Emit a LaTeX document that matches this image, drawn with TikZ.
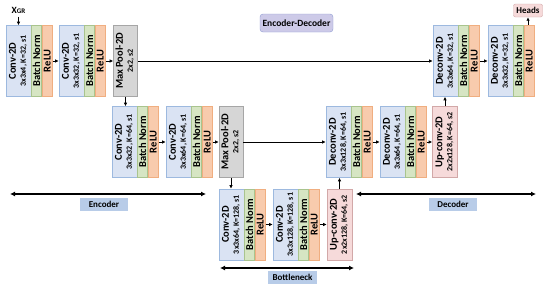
\documentclass[tikz,border=0pt]{standalone}
\usepackage{fontspec}
\setmainfont{Carlito}
\usepackage{graphicx}
\usetikzlibrary{arrows.meta}

\definecolor{convblue}{HTML}{DAE3F3}
\definecolor{convline}{HTML}{9DB9DF}
\definecolor{bngreen}{HTML}{D6E5C3}
\definecolor{bnline}{HTML}{A9C48E}
\definecolor{reluorange}{HTML}{F8CBAD}
\definecolor{reluline}{HTML}{F0AE80}
\definecolor{poolgray}{HTML}{D6D6D6}
\definecolor{poolline}{HTML}{A6A6A6}
\definecolor{uppink}{HTML}{F6DADA}
\definecolor{upline}{HTML}{D2A8A8}
\definecolor{tagblue}{HTML}{B8CCE8}
\definecolor{edpurple}{HTML}{CDCAE8}
\definecolor{edline}{HTML}{8E9BD1}

% two line label, turned to read upwards
\newcommand{\blocklabel}[2]{\rotatebox{90}{\begin{tabular}{@{}c@{}}{\fontsize{10.5}{11}\selectfont\bfseries #1}\\[-2pt]{\fontsize{8}{9}\selectfont\bfseries #2}\end{tabular}}}
% layer + batch norm + relu
\newcommand{\convbnrelu}[6]{%
   \node[#4] (#1) at (#2,#3) {\blocklabel{#5}{#6}};
   \node[bnstrip, anchor=west] (#1b) at (#1.east) {\rotatebox{90}{Batch Norm}};
   \node[relustrip, anchor=west] (#1r) at (#1b.east) {\rotatebox{90}{ReLU}};
}

\begin{document}
\begin{tikzpicture}[x=1pt, y=-1pt, >={Latex[length=3.5pt,width=3.5pt]},
   layer/.style={inner sep=0pt, minimum width=25pt, minimum height=71pt, line width=0.6pt},
   conv/.style={layer, draw=convline, fill=convblue},
   pool/.style={layer, minimum width=24pt, draw=poolline, fill=poolgray},
   upconv/.style={layer, draw=upline, fill=uppink},
   bnstrip/.style={layer, minimum width=10pt, draw=bnline, fill=bngreen, font=\fontsize{10.5}{11}\selectfont\bfseries},
   relustrip/.style={layer, minimum width=10pt, draw=reluline, fill=reluorange, font=\fontsize{10.5}{11}\selectfont\bfseries},
   tag/.style={fill=tagblue, inner sep=0pt, minimum width=48pt, minimum height=13pt, font=\fontsize{9}{10}\selectfont\bfseries},
   link/.style={->, line width=0.8pt},
   span/.style={>={Latex[length=5pt,width=5pt]}, <->, line width=1.2pt}]

   \useasboundingbox (0,0) rectangle (550,290);

   % encoder
   \convbnrelu{e1}{18.5}{61}{conv}{Conv-2D}{3x3x4, K=32, s1}
   \convbnrelu{e2}{71.5}{61}{conv}{Conv-2D}{3x3x32, K=32, s1}
   \node[pool] (p1) at (125.5,61) {\blocklabel{Max Pool-2D}{2x2, s2}};
   \convbnrelu{e3}{124.5}{142}{conv}{Conv-2D}{3x3x32, K=64, s1}
   \convbnrelu{e4}{178.5}{142}{conv}{Conv-2D}{3x3x64, K=64, s1}
   \node[pool] (p2) at (231,142) {\blocklabel{Max Pool-2D}{2x2, s2}};

   % bottleneck
   \convbnrelu{b1}{231.5}{224.5}{conv}{Conv-2D}{3x3x64, K=128, s1}
   \convbnrelu{b2}{285.5}{224.5}{conv}{Conv-2D}{3x3x128, K=128, s1}
   \node[upconv] (u1) at (339.5,224.5) {\blocklabel{Up-conv-2D}{2x2x128, K=64, s2}};

   % decoder
   \convbnrelu{d3}{338.5}{142}{conv}{Deconv-2D}{3x3x128, K=64, s1}
   \convbnrelu{d4}{392.5}{142}{conv}{Deconv-2D}{3x3x64, K=64, s1}
   \node[upconv] (u2) at (445,142) {\blocklabel{Up-conv-2D}{2x2x128, K=64, s2}};
   \convbnrelu{d5}{445.5}{61}{conv}{Deconv-2D}{3x3x64, K=32, s1}
   \convbnrelu{d6}{500.5}{61}{conv}{Deconv-2D}{3x3x32, K=32, s1}

   \node[font=\fontsize{9.5}{10}\selectfont\bfseries] (xgr) at (18.5,10) {X{\fontsize{7}{7}\selectfont GR}};
   \node[draw=upline, fill=uppink, rounded corners=2pt, inner sep=0pt, minimum width=29pt, minimum height=13pt,
         font=\fontsize{9}{10}\selectfont\bfseries] (heads) at (528,10.5) {Heads};
   \node[draw=edline, fill=edpurple, rounded corners=3pt, inner sep=0pt, minimum width=73pt, minimum height=18pt,
         font=\fontsize{9.5}{10}\selectfont\bfseries] (encdec) at (296.5,23) {Encoder-Decoder};

   \draw[link] (xgr.south) -- (e1.north);
   \draw[link] (e1r) -- (e2);
   \draw[link] (e2r) -- (p1);
   \draw[link] (p1) -- (d5);
   \draw[link] (p1.south) -- (p1.south |- e3.north);
   \draw[link] (e3r) -- (e4);
   \draw[link] (e4r) -- (p2);
   \draw[link] (p2) -- (d3);
   \draw[link] (p2.south) -- (p2.south |- b1.north);
   \draw[link] (b1r) -- (b2);
   \draw[link] (b2r) -- (u1);
   \draw[link] (u1.north) -- (u1.north |- d3.south);
   \draw[link] (d3r) -- (d4);
   \draw[link] (d4r) -- (u2);
   \draw[link] (u2.north) -- (u2.north |- d5.south);
   \draw[link] (d5r) -- (d6);
   \draw[link] (heads.south |- d6r.north) -- (heads.south);

   % spans
   \coordinate (encL) at (10,194);
   \coordinate (encR) at (206,194);
   \coordinate (decL) at (356,194);
   \coordinate (decR) at (536,194);
   \coordinate (botL) at (220,268);
   \coordinate (botR) at (354,268);
   \draw[span] (encL) -- (encR);
   \draw[span] (decL) -- (decR);
   \draw[span] (botL) -- (botR);
   \node[tag] (enc) at (104,204) {Encoder};
   \node[tag] (dec) at (453,204) {Decoder};
   \node[tag, minimum width=49pt] (bot) at (292.5,277) {Bottleneck};
\end{tikzpicture}
\end{document}
